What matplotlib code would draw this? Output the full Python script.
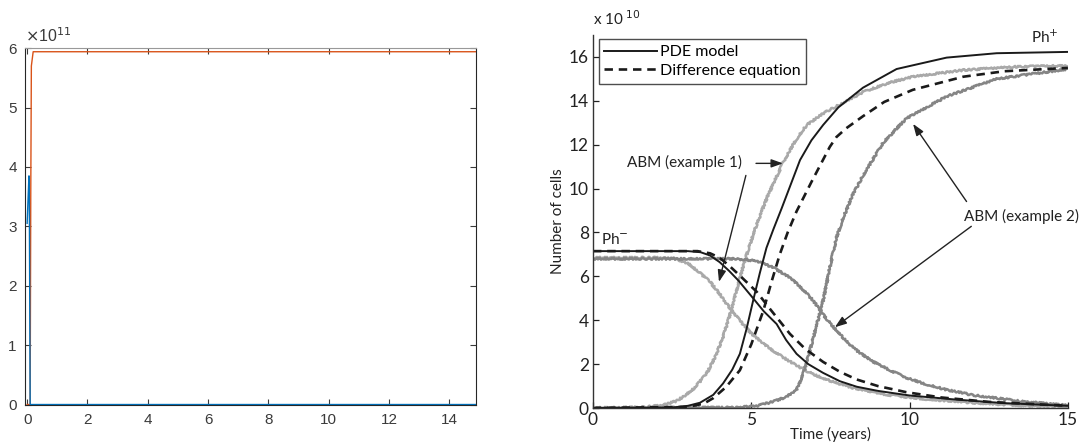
"""
Two panel figure: raw simulation output (left) and Ph-/Ph+ cell counts (right)
"""

import numpy as np
import matplotlib
matplotlib.use('Agg')
import matplotlib.pyplot as plt
from matplotlib.ticker import FuncFormatter


# left panel, raw run (cells)
raw_blue_t = [0.0, 0.06, 0.07, 0.1, 14.88]
raw_blue_v = [3.05e11, 3.85e11, 3.8e11, 0.0, 0.0]
raw_orange_t = [0.0, 0.1, 0.12, 0.14, 0.2, 14.88]
raw_orange_v = [0.0, 0.0, 3.5e11, 5.7e11, 5.94e11, 5.94e11]

# right panel, values in units of 1e10 cells, time in years
SCALE = 1e10

pde_minus_t = [0, 3.0, 3.4, 3.7, 4.0, 4.3, 4.6, 5.06, 5.4, 5.8, 6.1, 6.43, 6.8, 7.27,
               7.8, 8.33, 9.0, 10.0, 11.5, 13.0, 15.0]
pde_minus_v = [7.15, 7.15, 7.1, 6.95, 6.65, 6.25, 5.8, 5.0, 4.4, 3.83, 3.1, 2.47, 2.0, 1.6,
               1.22, 0.97, 0.78, 0.57, 0.38, 0.22, 0.1]

pde_plus_t = [0, 2.5, 3.0, 3.38, 3.8, 4.11, 4.4, 4.64, 4.85, 5.06, 5.27, 5.48, 5.7, 5.96,
              6.25, 6.54, 6.9, 7.27, 7.75, 8.53, 9.59, 11.17, 12.75, 15.0]
pde_plus_v = [0, 0.02, 0.1, 0.24, 0.6, 1.12, 1.75, 2.47, 3.6, 4.9, 6.15, 7.3, 8.15, 9.1,
              10.2, 11.3, 12.2, 12.9, 13.7, 14.6, 15.45, 15.97, 16.17, 16.23]

diff_minus_t = [0, 3.3, 3.7, 4.0, 4.33, 4.7, 5.17, 5.6, 6.22, 6.7, 7.27, 7.8, 8.33, 9.0,
                9.9, 11.0, 12.5, 15.0]
diff_minus_v = [7.15, 7.15, 7.05, 6.85, 6.45, 5.95, 5.3, 4.5, 3.38, 2.7, 2.1, 1.65, 1.3, 1.0,
                0.72, 0.48, 0.28, 0.1]

diff_plus_t = [0, 3.0, 3.5, 3.8, 4.2, 4.64, 5.0, 5.38, 5.65, 5.9, 6.15, 6.43, 6.9, 7.48,
               7.69, 8.0, 8.53, 9.2, 10.1, 11.7, 13.0, 15.0]
diff_plus_v = [0, 0.05, 0.2, 0.45, 0.95, 1.72, 2.9, 4.43, 5.8, 7.0, 8.0, 8.96, 10.3, 11.9,
               12.35, 12.75, 13.3, 13.95, 14.5, 15.1, 15.35, 15.5]

abm1_minus_t = [0, 2.0, 2.6, 3.0, 3.38, 3.7, 4.0, 4.3, 4.64, 5.0, 5.38, 5.8, 6.22, 6.7,
                7.27, 8.2, 9.3, 10.4, 12.0, 13.5, 15.0]
abm1_minus_v = [6.85, 6.85, 6.8, 6.6, 6.15, 5.75, 5.2, 4.6, 3.98, 3.4, 2.93, 2.5, 2.12, 1.72,
                1.34, 0.92, 0.6, 0.42, 0.24, 0.12, 0.05]

abm1_plus_t = [0, 1.5, 2.2, 2.6, 2.85, 3.2, 3.59, 3.85, 4.11, 4.4, 4.64, 4.9, 5.17, 5.5,
               6.01, 6.4, 6.75, 7.2, 7.48, 7.69, 8.53, 9.3, 10.1, 11.7, 13.3, 15.0]
abm1_plus_v = [0, 0.03, 0.12, 0.3, 0.51, 0.9, 1.57, 2.3, 3.23, 4.6, 5.94, 7.2, 8.36, 9.6,
               11.2, 12.2, 12.9, 13.35, 13.6, 13.75, 14.4, 14.8, 15.1, 15.4, 15.55, 15.6]

abm2_minus_t = [0, 3.0, 4.5, 5.17, 5.7, 6.22, 6.6, 6.96, 7.3, 7.69, 8.0, 8.33, 8.8, 9.38,
                9.9, 10.43, 11.2, 12.0, 13.6, 15.0]
abm2_minus_v = [6.8, 6.8, 6.8, 6.7, 6.4, 5.94, 5.45, 4.89, 4.2, 3.53, 3.05, 2.62, 2.15, 1.72,
                1.38, 1.12, 0.82, 0.59, 0.29, 0.12]

abm2_plus_t = [0, 4.5, 5.2, 5.69, 6.1, 6.43, 6.65, 6.85, 7.05, 7.27, 7.48, 7.69, 7.9, 8.2,
               8.53, 9.17, 9.9, 11.17, 12.75, 15.0]
abm2_plus_v = [0, 0.02, 0.1, 0.29, 0.5, 0.81, 1.6, 2.62, 3.7, 4.89, 6.4, 7.75, 8.66, 9.7,
               10.6, 12.1, 13.2, 14.2, 15.0, 15.45]

ytick_vals = [0, 2, 4, 6, 8, 10, 12, 14, 16]
xtick_vals = [0, 5, 10, 15]


def cells(values):
    return np.array(values) * SCALE


fig = plt.figure(figsize=(10.88, 4.46), dpi=100)

# ---- left panel -------------------------------------------------------
matlab_gray = '#3a3a3a'
axl = fig.add_axes([0.023, 0.093, 0.4145, 0.799])
axl.plot(raw_orange_t, raw_orange_v, color='#D95319', lw=1.0)
axl.plot(raw_blue_t, raw_blue_v, color='#0072BD', lw=1.0)
axl.set_xlim(-0.07, 14.88)
axl.set_ylim(0, 6e11)
axl.set_xticks(range(0, 15, 2))
axl.set_yticks([i * 1e11 for i in range(7)])
axl.yaxis.set_major_formatter(FuncFormatter(lambda v, p: f'{v / 1e11:.0f}'))
axl.tick_params(direction='in', top=True, right=True, length=4, width=0.8,
                labelsize=11, colors=matlab_gray, pad=6)
for name, sp in axl.spines.items():
    sp.set_color('#999999' if name == 'top' else '#262626')
    sp.set_linewidth(0.8)
for lab in axl.get_xticklabels() + axl.get_yticklabels():
    lab.set_family('Liberation Sans')
axl.text(0.0, 1.01, r'$\times$10$^{11}$', transform=axl.transAxes, ha='left', va='bottom',
         fontsize=11.5, color=matlab_gray, family='Liberation Sans')

# ---- right panel ------------------------------------------------------
fam = ['Lato', 'DejaVu Sans']
dark = '#1a1a1a'
axr = fig.add_axes([0.545, 0.0852, 0.4365, 0.8363])

for t, v, col in [(abm1_minus_t, abm1_minus_v, '#a9a9a9'),
                  (abm1_plus_t, abm1_plus_v, '#a9a9a9'),
                  (abm2_minus_t, abm2_minus_v, '#858585'),
                  (abm2_plus_t, abm2_plus_v, '#858585')]:
    ln, = axr.plot(t, cells(v), color=col, lw=1.8)
    ln.set_sketch_params(scale=0.9, length=2.0, randomness=4.0)

axr.plot(pde_minus_t, cells(pde_minus_v), color=dark, lw=1.4, label='PDE model')
axr.plot(pde_plus_t, cells(pde_plus_v), color=dark, lw=1.4)
axr.plot(diff_minus_t, cells(diff_minus_v), color=dark, lw=1.9, dashes=(3.2, 2.2),
         label='Difference equation')
axr.plot(diff_plus_t, cells(diff_plus_v), color=dark, lw=1.9, dashes=(3.2, 2.2))

axr.set_xlim(0, 15)
axr.set_ylim(0, 17 * SCALE)
axr.set_xticks(xtick_vals)
axr.set_yticks([y * SCALE for y in ytick_vals])
axr.yaxis.set_major_formatter(FuncFormatter(lambda v, p: f'{v / SCALE:.0f}'))
axr.spines['top'].set_visible(False)
axr.spines['right'].set_visible(False)
for sp in ('left', 'bottom'):
    axr.spines[sp].set_color('#333333')
    axr.spines[sp].set_linewidth(1.0)
axr.tick_params(direction='in', length=4, width=0.9, labelsize=12.5, colors='#222222', pad=3)
for lab in axr.get_xticklabels() + axr.get_yticklabels():
    lab.set_family(fam)
axr.set_xlabel('Time (years)', fontsize=11, family=fam, color='#222222', labelpad=-1)
axr.set_ylabel('Number of cells', fontsize=11, family=fam, color='#222222', labelpad=3)
axr.text(0.0, 1.02, r'x 10$^{\ 10}$', transform=axr.transAxes, ha='left', va='bottom',
         fontsize=11, family=fam, color='#222222')

leg = axr.legend(loc='upper left', bbox_to_anchor=(0.005, 0.997), frameon=True, fancybox=False,
                 prop={'family': fam, 'size': 11.5}, handlelength=3.3, handletextpad=0.2,
                 borderpad=0.35, labelspacing=0.3, borderaxespad=0.2)
leg.get_frame().set_edgecolor('#222222')
leg.get_frame().set_linewidth(1.0)

txt = dict(fontsize=11, family=fam, color='#222222')
axr.text(13.85, 16.5 * SCALE, r'Ph$^{+}$', ha='left', va='bottom', **txt)
axr.text(0.25, 7.35 * SCALE, r'Ph$^{-}$', ha='left', va='bottom', **txt)
axr.text(2.9, 11.2 * SCALE, 'ABM (example 1)', ha='center', va='center', **txt)
axr.text(13.55, 8.75 * SCALE, 'ABM (example 2)', ha='center', va='center', **txt)

arrow = dict(arrowstyle='-|>,head_length=0.7,head_width=0.25', color='#222222', lw=1.0,
             shrinkA=0, shrinkB=0)
axr.annotate('', xy=(6.0, 11.15 * SCALE), xytext=(5.15, 11.15 * SCALE), arrowprops=arrow)
axr.annotate('', xy=(3.98, 5.75 * SCALE), xytext=(4.83, 10.6 * SCALE), arrowprops=arrow)
axr.annotate('', xy=(10.11, 12.95 * SCALE), xytext=(11.8, 9.41 * SCALE), arrowprops=arrow)
axr.annotate('', xy=(7.64, 3.68 * SCALE), xytext=(11.95, 8.28 * SCALE), arrowprops=arrow)

fig.savefig('out.png', dpi=100)
